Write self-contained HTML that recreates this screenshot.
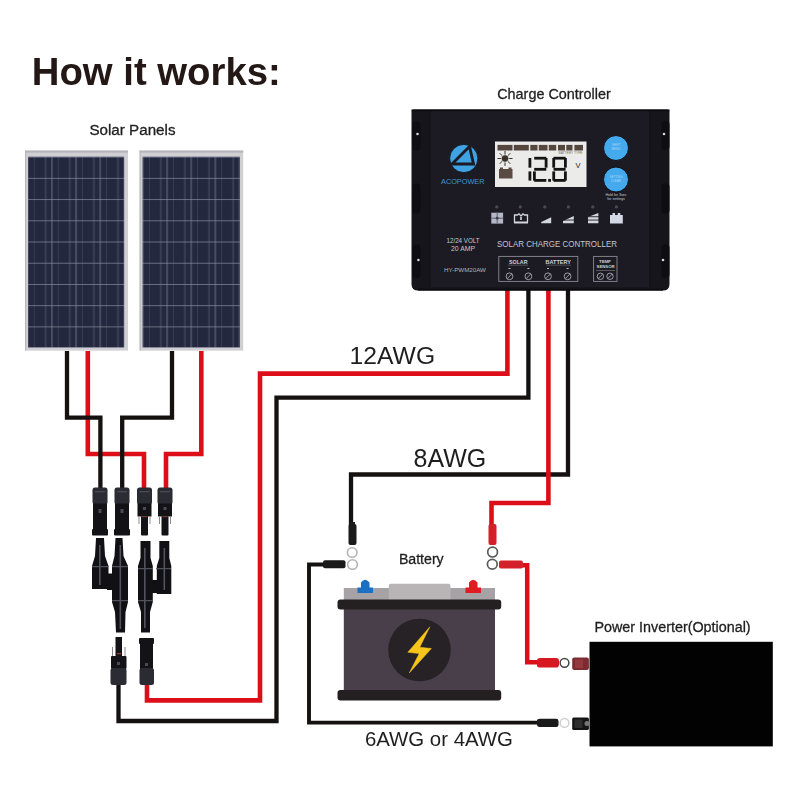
<!DOCTYPE html>
<html><head><meta charset="utf-8">
<style>
html,body{margin:0;padding:0;background:#fff;width:800px;height:800px;overflow:hidden}
svg{position:absolute;left:0;top:0;display:block;filter:blur(0.35px)}
text{font-family:"Liberation Sans",sans-serif}
</style></head>
<body>
<svg width="800" height="800" viewBox="0 0 800 800">
<defs>
  <pattern id="cells" x="9.65" y="8.1" width="24.1" height="21.22" patternUnits="userSpaceOnUse">
    <rect width="24.1" height="21.22" fill="#23283e"/>
    <rect x="-0.7" y="0" width="1.6" height="21.22" fill="#393e52"/>
    <rect x="11.2" y="0" width="1.5" height="21.22" fill="#40455b"/>
    <rect x="17.5" y="0" width="1.4" height="21.22" fill="#555a70"/>
    <rect x="0" y="-0.6" width="24.1" height="1.3" fill="#858a9e"/>
  </pattern>
  <pattern id="cells2" href="#cells" x="4.3" y="8.1"/>
</defs>

<!-- Title -->
<text x="31.8" y="84.8" font-size="38.3" font-weight="bold" fill="#231815">How it works:</text>
<text x="89.4" y="135.2" font-size="15.2" fill="#222" stroke="#222" stroke-width="0.3">Solar Panels</text>
<text x="497.2" y="99" font-size="14.4" fill="#1f1f1f" stroke="#1f1f1f" stroke-width="0.3">Charge Controller</text>

<!-- Solar panels -->
<g>
  <rect x="25" y="150.6" width="103" height="200" fill="#cfcfd4"/>
  <rect x="25" y="150.6" width="103" height="2" fill="#b4b4ba"/>
  <rect x="25" y="150.6" width="1.2" height="200" fill="#b8b8be"/>
  <rect x="28" y="156.7" width="96.2" height="190.8" fill="url(#cells)"/>
  <rect x="139.6" y="150.6" width="103.6" height="200" fill="#cfcfd4"/>
  <rect x="139.6" y="150.6" width="103.6" height="2" fill="#b4b4ba"/>
  <rect x="139.6" y="150.6" width="1.2" height="200" fill="#b8b8be"/>
  <rect x="142.5" y="156.7" width="97.5" height="190.8" fill="url(#cells2)"/>
</g>

<!-- Wires: red first -->
<g fill="none" stroke-linejoin="miter" stroke-linecap="butt">
  <g stroke="#dc0f18" stroke-width="4.6">
    <path d="M87.8 351 V454 H144 V492"/>
    <path d="M201.3 351 V454 H166 V492"/>
    <path d="M147 684 V700.4 H260 V373.6 H507.4 V289"/>
  </g>
  <g stroke="#161111" stroke-width="4.3">
    <path d="M67 351 V417.6 H100.4 V492"/>
    <path d="M172 351 V417.6 H122.2 V492"/>
    <path d="M118.5 684 V721 H276.5 V397.6 H528.4 V289"/>
    <path d="M568 289 V474.5 H351 V526"/>
  </g>
  <g stroke="#dc0f18" stroke-width="4.6">
    <path d="M548.4 289 V503 H491.5 V526"/>
  </g>
  <g stroke="#161111" stroke-width="3.9">
    <path d="M326 564.5 H309 V722.6 H540"/>
  </g>
  <g stroke="#dc0f18" stroke-width="4.5">
    <path d="M520 565.2 H527.2 V662.2 H540"/>
  </g>
</g>

<!-- Connectors (MC4) -->
<g>
  <!-- top row: black (male nut style) -->
  <g fill="#131317">
    <rect x="92.5" y="487.5" width="15" height="17" rx="2.5" fill="#2b2b33"/>
    <rect x="93" y="503.5" width="14" height="26"/>
    <rect x="92" y="529" width="16" height="6.5" rx="1"/>
    <rect x="114.5" y="487.5" width="15" height="17" rx="2.5" fill="#2b2b33"/>
    <rect x="115" y="503.5" width="14" height="26"/>
    <rect x="114" y="529" width="16" height="6.5" rx="1"/>
    <rect x="137" y="487.5" width="15" height="17" rx="2.5" fill="#2b2b33"/>
    <rect x="137.5" y="503.5" width="14" height="13"/>
    <rect x="141" y="516" width="7" height="19.5" rx="1"/>
    <rect x="157.5" y="487.5" width="15" height="17" rx="2.5" fill="#2b2b33"/>
    <rect x="158" y="503.5" width="14" height="13"/>
    <rect x="161.5" y="516" width="7" height="19.5" rx="1"/>
  </g>
  <g fill="#4a4a54">
    <rect x="95" y="491" width="10" height="1.3"/>
    <rect x="117" y="491" width="10" height="1.3"/>
    <rect x="139.5" y="491" width="10" height="1.3"/>
    <rect x="160" y="491" width="10" height="1.3"/>
    <rect x="98.5" y="509" width="3" height="4"/>
    <rect x="120.5" y="509" width="3" height="4"/>
    <rect x="143" y="507" width="3" height="3"/>
    <rect x="163.5" y="507" width="3" height="3"/>
  </g>
  <g fill="#7a3a2a">
    <rect x="142" y="516" width="5" height="1.2"/>
    <rect x="162.5" y="516" width="5" height="1.2"/>
  </g>
  <g fill="#8a8a92">
    <rect x="138.5" y="516" width="1" height="8"/>
    <rect x="149.5" y="516" width="1" height="8"/>
    <rect x="159" y="516" width="1" height="8"/>
    <rect x="170" y="516" width="1" height="8"/>
  </g>
  <!-- Y branch left (black) -->
  <g fill="#111115">
    <path d="M96 538 H104 L105 556 L108.5 566 V589 H92 V566 L95 556 Z"/>
    <path d="M115.5 538 H122.5 L123.5 556 L128 566 V602 L125.5 612 L125 632.5 H116 L115 612 L112 602 V566 L114.5 556 Z"/>
    <rect x="107" y="573.5" width="6" height="16.5"/>
  </g>
  <!-- Y branch right (red) -->
  <g fill="#111115">
    <path d="M140.5 541 H150.5 V558 L152.8 566 V602 L150 612 V632.5 H141 V612 L138 602 V566 L140.5 558 Z"/>
    <path d="M159.3 541 H169.3 V558 L171.3 566 V594 H156.8 V566 L159.3 558 Z"/>
    <rect x="152" y="580" width="5.5" height="13"/>
  </g>
  <g fill="#5a5a64" opacity="0.9">
    <rect x="99" y="545" width="1.6" height="40"/>
    <rect x="119.5" y="545" width="1.6" height="84"/>
    <rect x="144" y="548" width="1.6" height="80"/>
    <rect x="163.5" y="548" width="1.6" height="42"/>
    <rect x="92" y="566" width="16.5" height="1.2"/>
    <rect x="112" y="566" width="16" height="1.2"/>
    <rect x="138" y="568" width="15" height="1.2"/>
    <rect x="156" y="568" width="15" height="1.2"/>
    <rect x="112" y="600" width="16" height="1.2"/>
    <rect x="138" y="600" width="15" height="1.2"/>
  </g>
  <!-- bottom connectors -->
  <g fill="#131317">
    <rect x="115.5" y="637" width="6.5" height="20"/>
    <rect x="111" y="656" width="15.5" height="13" rx="1"/>
    <rect x="110.5" y="668" width="16" height="17" rx="2.5" fill="#2b2b33"/>
    <rect x="139" y="638" width="15" height="6" rx="1"/>
    <rect x="140" y="644" width="13" height="26"/>
    <rect x="139.5" y="668" width="14.5" height="17" rx="2.5" fill="#2b2b33"/>
  </g>
  <g fill="#8a8a92">
    <rect x="112" y="647" width="1" height="9"/>
    <rect x="124.5" y="647" width="1" height="9"/>
  </g>
  <rect x="117" y="653" width="4" height="1.3" fill="#9a3a2a"/>
  <g fill="#4a4a54">
    <rect x="117" y="662" width="3" height="3"/>
    <rect x="145" y="663" width="3" height="3"/>
  </g>
</g>

<!-- Charge controller -->
<g>
  <path d="M411.5 111.5 Q411.5 109.5 413.5 109.5 H667.5 Q669.5 109.5 669.5 111.5 V284 Q669.5 290.6 663 290.6 H418 Q411.5 290.6 411.5 284 Z" fill="#16151b"/>
  <rect x="430" y="111" width="219.5" height="176" fill="#1c1b23"/>
  <rect x="411.5" y="109.5" width="258" height="1.6" fill="#0b0b0e"/>
  <rect x="429.6" y="111" width="0.9" height="176" fill="#141319"/>
  <rect x="649.2" y="111" width="0.9" height="176" fill="#141319"/>
  <rect x="418" y="288.6" width="245" height="2" fill="#0d0d10"/>
  <!-- side slots -->
  <g fill="#0e0d12">
    <rect x="412.3" y="121.6" width="8" height="29" rx="3.5"/>
    <rect x="412.3" y="183.4" width="8" height="30" rx="3.5"/>
    <rect x="412.3" y="244.6" width="8" height="33.5" rx="3.5"/>
    <rect x="661.5" y="121" width="8" height="29" rx="3.5"/>
    <rect x="661.5" y="183.4" width="8" height="30" rx="3.5"/>
    <rect x="661.5" y="244.6" width="8" height="33.5" rx="3.5"/>
  </g>
  <g fill="#d8d8dc">
    <circle cx="417.5" cy="134" r="1.3"/>
    <circle cx="418.4" cy="260" r="1.3"/>
    <circle cx="664" cy="134" r="1.3"/>
    <circle cx="663" cy="260" r="1.3"/>
  </g>
  <!-- logo -->
  <circle cx="463.8" cy="158.5" r="14.1" fill="#3fa3e3" stroke="#0e0e14" stroke-width="0.8"/>
  <path d="M469.5 146.5 L452 164 L473.5 164 Z" fill="none" stroke="#1c1b23" stroke-width="2.9" stroke-linejoin="miter"/>
  <text x="441" y="184.4" font-size="7.4" fill="#3b9ad9" textLength="43.5" lengthAdjust="spacingAndGlyphs">ACOPOWER</text>
  <!-- LCD -->
  <rect x="495" y="141.5" width="91.5" height="45.5" fill="#ebebea"/>
  <g fill="#56473e"><rect x="497.5" y="144.9" width="15.0" height="5.6"/><rect x="513.8" y="144.9" width="15.0" height="5.6"/><rect x="530.3" y="144.9" width="7.2000000000000455" height="5.6"/><rect x="538.8" y="144.9" width="8.700000000000045" height="5.6"/><rect x="548.8" y="144.9" width="7.400000000000091" height="5.6"/><rect x="558" y="144.9" width="7" height="5.6"/><rect x="566.3" y="144.9" width="6.2000000000000455" height="5.6"/><rect x="574.4" y="144.9" width="8.600000000000023" height="5.6"/></g>
  <text x="558.5" y="153.8" font-size="3" fill="#7a6b62" textLength="24" lengthAdjust="spacingAndGlyphs">BATTERY TYPE</text>
  <!-- sun -->
  <g stroke="#3a302a" stroke-width="1">
    <line x1="505" y1="151" x2="505" y2="166"/>
    <line x1="497.5" y1="158.5" x2="512.5" y2="158.5"/>
    <line x1="499.7" y1="153.2" x2="510.3" y2="163.8"/>
    <line x1="510.3" y1="153.2" x2="499.7" y2="163.8"/>
  </g>
  <circle cx="505" cy="158.5" r="3.8" fill="#3a302a" stroke="#ebebea" stroke-width="0.8"/>
  <!-- battery icon -->
  <rect x="499" y="169" width="13.5" height="9.5" fill="#5a4b42"/>
  <rect x="500" y="167.5" width="3" height="2" fill="#5a4b42"/>
  <rect x="508.5" y="167.5" width="3" height="2" fill="#5a4b42"/>
  <!-- digits 12.8 -->
  <g fill="#141414"><rect x="528.50" y="158.00" width="2.80" height="9.70"/><rect x="528.50" y="171.40" width="2.80" height="9.20"/><rect x="534.20" y="156.80" width="12.10" height="2.80"/><rect x="544.70" y="158.00" width="2.80" height="9.70"/><rect x="534.20" y="167.90" width="12.10" height="2.80"/><rect x="533.00" y="171.40" width="2.80" height="9.20"/><rect x="534.20" y="179.00" width="12.10" height="2.80"/><rect x="553.50" y="156.80" width="12.10" height="2.80"/><rect x="564.00" y="158.00" width="2.80" height="9.70"/><rect x="564.00" y="171.40" width="2.80" height="9.20"/><rect x="553.50" y="179.00" width="12.10" height="2.80"/><rect x="552.30" y="171.40" width="2.80" height="9.20"/><rect x="552.30" y="158.00" width="2.80" height="9.70"/><rect x="553.50" y="167.90" width="12.10" height="2.80"/><rect x="548.2" y="179" width="2.8" height="2.8"/></g>
  <text x="575.5" y="167.5" font-size="7.5" fill="#222">V</text>
  <!-- buttons -->
  <circle cx="616" cy="148" r="12.5" fill="#45a9ee" stroke="#0f0f14" stroke-width="1"/>
  <circle cx="616" cy="179.5" r="12.5" fill="#45a9ee" stroke="#0f0f14" stroke-width="1"/>
  <text x="616" y="146" font-size="3" fill="#a8d8fa" text-anchor="middle">SHIFT</text>
  <text x="616" y="150" font-size="3" fill="#a8d8fa" text-anchor="middle">MENU</text>
  <text x="616" y="178" font-size="3" fill="#a8d8fa" text-anchor="middle">SETTING</text>
  <text x="616" y="182" font-size="3" fill="#a8d8fa" text-anchor="middle">CLEAR</text>
  <text x="616" y="196" font-size="3.6" fill="#c8c8d0" text-anchor="middle">Hold for 3sec</text>
  <text x="616" y="200" font-size="3.6" fill="#c8c8d0" text-anchor="middle">for settings</text>
  <!-- status icons -->
  <rect x="491.3" y="212.7" width="11.8" height="10.9" fill="#b4b8c6"/>
  <rect x="496.6" y="212.7" width="1.2" height="10.9" fill="#6a6c78"/>
  <rect x="491.3" y="217.6" width="11.8" height="1.2" fill="#6a6c78"/>
  <circle cx="497.2" cy="218.2" r="1.4" fill="#3a3c48"/>
  <path d="M514.5 222.6 V215 H517.5 L519 213.8 L521 216 L523 213.8 L524.5 215 H527.5 V222.6" fill="none" stroke="#d4d6de" stroke-width="1.3"/>
  <rect x="514" y="221.5" width="14" height="2" fill="#d4d6de"/>
  <rect x="520.2" y="217" width="1.6" height="3" fill="#d4d6de"/>
  <path d="M541.2 223.3 V222 L551.2 217.3 V223.3 Z" fill="#d4d6de"/>
  <path d="M563 223.3 V221 L573.8 216 V223.3 Z" fill="#d4d6de"/>
  <path d="M588 223.3 V217 L598.4 213 V223.3 Z" fill="#d4d6de"/>
  <g fill="#1f1e26">
    <rect x="563" y="219.6" width="11" height="0.9"/>
    <rect x="588" y="216.3" width="11" height="0.9"/>
    <rect x="588" y="219.6" width="11" height="0.9"/>
  </g>
  <path d="M610 223.6 V215 H612.5 V213 H615 V215 H617.8 V213 H620.3 V215 H622.8 V223.6 Z" fill="#d4d8e6"/>
  <g fill="#4a4850">
    <circle cx="496.8" cy="206.9" r="1.7"/>
    <circle cx="520.3" cy="206.9" r="1.7"/>
    <circle cx="544.8" cy="206.9" r="1.7"/>
    <circle cx="568.4" cy="206.9" r="1.7"/>
    <circle cx="592.8" cy="206.9" r="1.7"/>
    <circle cx="616.4" cy="206.9" r="1.7"/>
  </g>
  <!-- labels -->
  <text x="446.5" y="242.7" font-size="6.4" fill="#c9c9d0" textLength="33" lengthAdjust="spacingAndGlyphs">12/24 VOLT</text>
  <text x="451" y="250.5" font-size="6.4" fill="#c9c9d0" textLength="24" lengthAdjust="spacingAndGlyphs">20 AMP</text>
  <text x="444" y="271.6" font-size="5" fill="#b0b0b8" textLength="42" lengthAdjust="spacingAndGlyphs">HY-PWM20AW</text>
  <text x="497" y="247" font-size="8.6" fill="#c6c6ce" textLength="120" lengthAdjust="spacingAndGlyphs">SOLAR CHARGE CONTROLLER</text>
  <!-- terminal boxes -->
  <rect x="498.8" y="256.4" width="79" height="25" fill="none" stroke="#8a8a94" stroke-width="0.9"/>
  <rect x="593.6" y="256.4" width="23.4" height="25" fill="none" stroke="#8a8a94" stroke-width="0.9"/>
  <text x="509" y="263.5" font-size="5" font-weight="bold" fill="#d0d0d8" textLength="18.5" lengthAdjust="spacingAndGlyphs">SOLAR</text>
  <text x="545.5" y="263.5" font-size="5" font-weight="bold" fill="#d0d0d8" textLength="25.5" lengthAdjust="spacingAndGlyphs">BATTERY</text>
  <text x="599" y="263" font-size="4" font-weight="bold" fill="#d0d0d8" textLength="12" lengthAdjust="spacingAndGlyphs">TEMP</text>
  <text x="596.6" y="268" font-size="4" font-weight="bold" fill="#d0d0d8" textLength="18" lengthAdjust="spacingAndGlyphs">SENSOR</text>
  <g fill="#c8c8d0">
    <rect x="508" y="264.8" width="20" height="0.6" opacity="0.5"/>
    <rect x="546" y="264.8" width="25" height="0.6" opacity="0.5"/>
    <rect x="596" y="270.3" width="19" height="0.6" opacity="0.6"/>
  </g>
  <g fill="none" stroke="#a8a8b0" stroke-width="0.9">
    <circle cx="509.5" cy="276.3" r="3.4"/>
    <circle cx="528.4" cy="276.3" r="3.4"/>
    <circle cx="548" cy="276.3" r="3.4"/>
    <circle cx="567.6" cy="276.3" r="3.4"/>
    <circle cx="600.4" cy="276.3" r="3.2"/>
    <circle cx="610" cy="276.3" r="3.2"/>
    <path d="M507.3 278.5 L511.7 274.1 M526.2 278.5 L530.6 274.1 M545.8 278.5 L550.2 274.1 M565.4 278.5 L569.8 274.1 M598.2 278.5 L602.6 274.1 M607.8 278.5 L612.2 274.1"/>
  </g>
  <g fill="#b8b8c0">
    <rect x="508.5" y="268" width="2" height="1"/>
    <rect x="527.4" y="268" width="2" height="1"/>
    <rect x="547" y="268" width="2" height="1"/>
    <rect x="566.6" y="268" width="2" height="1"/>
  </g>
</g>

<!-- labels -->
<text x="349.6" y="363.5" font-size="24.7" fill="#1e1e1e">12AWG</text>
<text x="413.6" y="466.8" font-size="25" fill="#1e1e1e">8AWG</text>
<text x="398.9" y="564" font-size="14.15" fill="#1f1f1f" stroke="#1f1f1f" stroke-width="0.3">Battery</text>
<text x="594.4" y="631.9" font-size="14.35" fill="#1f1f1f" stroke="#1f1f1f" stroke-width="0.3">Power Inverter(Optional)</text>
<text x="364.9" y="746.4" font-size="20.4" fill="#1e1e1e">6AWG or 4AWG</text>

<!-- Battery terminals/rings -->
<g>
  <rect x="348.5" y="524" width="8" height="21" rx="2" fill="#1a1a1a"/>
  <rect x="350" y="522" width="5" height="4" fill="#1a1a1a"/>
  <circle cx="352.2" cy="552.5" r="4.8" fill="#fff" stroke="#b4b4b4" stroke-width="1.6"/>
  <rect x="323" y="560.3" width="22.5" height="8" rx="2" fill="#1a1a1a"/>
  <circle cx="352.5" cy="564.5" r="4.8" fill="#fff" stroke="#b4b4b4" stroke-width="1.6"/>
  <rect x="488.5" y="524" width="8" height="21" rx="2" fill="#d3202a"/>
  <circle cx="492.6" cy="552.1" r="4.9" fill="#fff" stroke="#5a5a5a" stroke-width="1.7"/>
  <rect x="499" y="560.5" width="24" height="8" rx="2" fill="#d3202a"/>
  <circle cx="492.3" cy="564.2" r="4.9" fill="#fff" stroke="#5a5a5a" stroke-width="1.7"/>
</g>

<!-- Battery -->
<g>
  <path d="M361 593 V582.5 Q365 577 369.5 582.5 V593 Z" fill="#1d6fc2"/>
  <rect x="357.5" y="587.5" width="15.5" height="5.5" fill="#1d6fc2"/>
  <path d="M469 593 V582.5 Q473 577 477.5 582.5 V593 Z" fill="#e01b22"/>
  <rect x="465.5" y="587.5" width="15.5" height="5.5" fill="#e01b22"/>
  <rect x="343.8" y="588" width="151.2" height="12" fill="#a7a2a5"/>
  <path d="M388.8 600 V586 Q388.8 583.8 391 583.8 H448.3 Q450.5 583.8 450.5 586 V600 Z" fill="#b9b4b6"/>
  <rect x="357.5" y="588" width="15.5" height="5" fill="#1d6fc2"/>
  <rect x="465.5" y="588" width="15.5" height="5" fill="#e01b22"/>
  <rect x="343.8" y="609" width="151.2" height="82" fill="#483f4a"/>
  <rect x="337.5" y="599.5" width="163.7" height="10" rx="3" fill="#242022"/>
  <rect x="337.5" y="690" width="163.7" height="10.5" rx="3" fill="#242022"/>
  <circle cx="419.5" cy="650" r="31.3" fill="#272226"/>
  <path d="M429.9 626.8 L419.8 647.2 L431.4 648.5 L409.3 672.9 L419.2 653.6 L407.8 652.3 Z" fill="#f5c51c" stroke="#f5c51c" stroke-width="0.5" stroke-linejoin="round"/>
</g>

<!-- Inverter -->
<g>
  <rect x="589.5" y="641.8" width="183.3" height="104.6" fill="#020202"/>
  <path d="M537 660.5 Q537 658 540 658 H556 Q559 658 559 661 V664.5 Q559 667.6 556 667.6 H540 Q537 667.6 537 665 Z" fill="#d71820"/>
  <circle cx="564.5" cy="662.8" r="4.4" fill="#fff" stroke="#444" stroke-width="1.5"/>
  <rect x="572.2" y="657.5" width="16.7" height="12.5" rx="2" fill="#7d2a30"/>
  <rect x="575" y="659.5" width="8" height="8.5" fill="#943840"/>
  <path d="M537 721 Q537 718.7 540 718.7 H556 Q558.5 718.7 558.5 721 V724.5 Q558.5 727 556 727 H540 Q537 727 537 724.5 Z" fill="#1a1a1a"/>
  <circle cx="564.5" cy="722.9" r="4.4" fill="#fff" stroke="#d0d0d0" stroke-width="1.5"/>
  <rect x="572.2" y="717.5" width="16.7" height="12.5" rx="1.5" fill="#141414"/>
  <rect x="574.5" y="719.5" width="8" height="8.5" fill="#2e2e2e"/>
  <circle cx="587" cy="723.5" r="2.5" fill="#777"/>
</g>
</svg>
</body></html>
